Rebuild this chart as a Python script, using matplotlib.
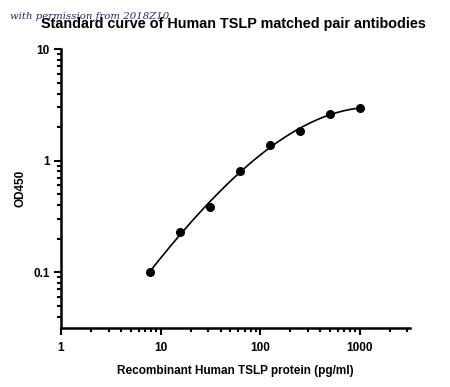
import numpy as np
import matplotlib
matplotlib.use("Agg")
import matplotlib.pyplot as plt
from matplotlib.ticker import LogLocator, NullFormatter, FixedLocator, FixedFormatter

# Standard curve data
conc = [7.8125, 15.625, 31.25, 62.5, 125, 250, 500, 1000]
od450 = [0.10, 0.231, 0.387, 0.813, 1.38, 1.86, 2.60, 2.97]

x_ticks = [1, 10, 100, 1000]
x_labels = ["1", "10", "100", "1000"]
y_ticks = [0.1, 1, 10]
y_labels = ["0.1", "1", "10"]

plt.rcParams["font.family"] = ["Liberation Sans", "DejaVu Sans"]

fig = plt.figure(figsize=(4.5, 3.87), dpi=100)
ax = fig.add_axes([0.1356, 0.1525, 0.7756, 0.7205])

# smooth fit in log-log space
lx = np.log10(conc)
ly = np.log10(od450)
coef = np.polyfit(lx, ly, 3)
xs = np.linspace(lx[0], lx[-1], 200)
ax.plot(10 ** xs, 10 ** np.polyval(coef, xs), color="black", lw=1.2, zorder=2)
ax.plot(conc, od450, "o", color="black", ms=5.5, zorder=3, clip_on=False)

ax.set_xscale("log")
ax.set_yscale("log")
ax.set_xlim(1, 3200)
ax.set_ylim(0.0316, 10)

ax.xaxis.set_major_locator(FixedLocator(x_ticks))
ax.xaxis.set_major_formatter(FixedFormatter(x_labels))
ax.xaxis.set_minor_locator(LogLocator(base=10, subs=np.arange(2, 10)))
ax.xaxis.set_minor_formatter(NullFormatter())
ax.yaxis.set_major_locator(FixedLocator(y_ticks))
ax.yaxis.set_major_formatter(FixedFormatter(y_labels))
ax.yaxis.set_minor_locator(LogLocator(base=10, subs=np.arange(2, 10)))
ax.yaxis.set_minor_formatter(NullFormatter())

for s in ["top", "right"]:
    ax.spines[s].set_visible(False)
for s in ["left", "bottom"]:
    ax.spines[s].set_linewidth(1.8)

ax.tick_params(which="major", length=5, width=1.5, labelsize=8.5)
ax.tick_params(axis="x", which="major", pad=5)
ax.tick_params(axis="y", which="major", pad=3)
ax.tick_params(which="minor", length=3, width=1.5)
for lab in ax.get_xticklabels() + ax.get_yticklabels():
    lab.set_fontweight("bold")

ax.set_xlabel("Recombinant Human TSLP protein (pg/ml)", fontsize=8.5,
              fontweight="bold", labelpad=8)
ax.set_ylabel("OD450", fontsize=8.5, fontweight="bold", labelpad=5)

fig.text(0.518, 0.937, "Standard curve of Human TSLP matched pair antibodies",
         ha="center", va="center", fontsize=10.4, fontweight="bold")
fig.text(0.022, 0.958, "with permission from 2018Z10", ha="left", va="center",
         fontsize=7.3, style="italic", family="DejaVu Serif", color="#1f2a6b")

fig.savefig("out.png", dpi=100)
